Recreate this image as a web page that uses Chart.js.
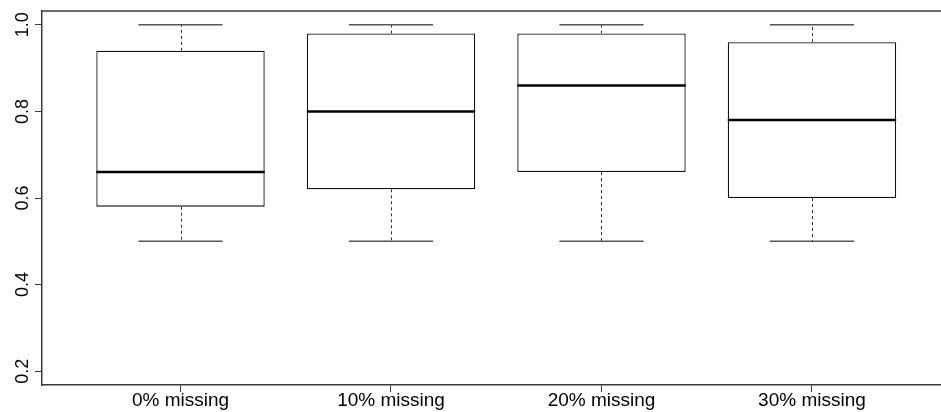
<!DOCTYPE html>
<html>
<head>
<meta charset="utf-8">
<script src="https://cdn.jsdelivr.net/npm/chart.js@4/dist/chart.umd.min.js"></script>
<style>
  html, body { margin: 0; padding: 0; background: #fff; }
  #wrap { width: 941px; height: 412px; }
</style>
</head>
<body>
<div id="wrap"><canvas id="c" width="941" height="412"></canvas></div>
<script>
// Box-plot summaries per missing-data level
const categories  = ['0% missing', '10% missing', '20% missing', '30% missing'];
const whiskerLow  = [0.50, 0.50, 0.50, 0.50];
const q1          = [0.58, 0.62, 0.66, 0.60];
const median      = [0.66, 0.80, 0.86, 0.78];
const q3          = [0.94, 0.98, 0.98, 0.96];
const whiskerHigh = [1.00, 1.00, 1.00, 1.00];
const yTicks      = [0.2, 0.4, 0.6, 0.8, 1.0];

const positions = categories.map((_, i) => i + 1);
const FONT = '"Liberation Sans", Arial, Helvetica, sans-serif';
const AXIS_COLOR = '#3a3a3a';

// Whiskers, caps and median lines drawn on top of the floating bars (the boxes)
const boxParts = {
  id: 'boxParts',
  afterDatasetsDraw(chart) {
    const { ctx, scales: { x, y } } = chart;
    const meta = chart.getDatasetMeta(0);
    ctx.save();
    positions.forEach((p, i) => {
      const bar = meta.data[i];
      const cx = Math.round(bar.x) + 0.5;
      const half = bar.width / 2;
      const capL = x.getPixelForValue(p - 0.2);
      const capR = x.getPixelForValue(p + 0.2);
      const yLo = y.getPixelForValue(whiskerLow[i]);
      const yQ1 = y.getPixelForValue(q1[i]);
      const yMed = y.getPixelForValue(median[i]);
      const yQ3 = y.getPixelForValue(q3[i]);
      const yHi = y.getPixelForValue(whiskerHigh[i]);

      // dashed whiskers
      ctx.setLineDash([3, 3]);
      ctx.strokeStyle = '#333';
      ctx.lineWidth = 1;
      ctx.beginPath();
      ctx.moveTo(cx, yQ3); ctx.lineTo(cx, yHi);
      ctx.moveTo(cx, yQ1); ctx.lineTo(cx, yLo);
      ctx.stroke();

      // whisker caps
      ctx.setLineDash([]);
      ctx.strokeStyle = '#555';
      ctx.lineWidth = 1.5;
      ctx.beginPath();
      ctx.moveTo(capL, yHi); ctx.lineTo(capR, yHi);
      ctx.moveTo(capL, yLo); ctx.lineTo(capR, yLo);
      ctx.stroke();

      // median
      ctx.strokeStyle = '#000';
      ctx.lineWidth = 2.5;
      ctx.beginPath();
      ctx.moveTo(bar.x - half, yMed); ctx.lineTo(bar.x + half, yMed);
      ctx.stroke();
    });
    ctx.restore();
  },
  afterDraw(chart) {
    const { ctx, chartArea, scales: { y } } = chart;
    ctx.save();
    // top edge of the plot frame
    ctx.strokeStyle = AXIS_COLOR;
    ctx.lineWidth = 1.5;
    ctx.beginPath();
    ctx.moveTo(chartArea.left, chartArea.top);
    ctx.lineTo(chartArea.right, chartArea.top);
    ctx.stroke();
    // vertical y tick labels, reading bottom to top
    ctx.fillStyle = '#000';
    ctx.font = '18px ' + FONT;
    ctx.textAlign = 'center';
    ctx.textBaseline = 'alphabetic';
    y.ticks.forEach(t => {
      const py = y.getPixelForValue(t.value);
      ctx.save();
      ctx.translate(28, py);
      ctx.rotate(-Math.PI / 2);
      ctx.fillText(t.value.toFixed(1), 0, 0);
      ctx.restore();
    });
    ctx.restore();
  }
};

new Chart(document.getElementById('c'), {
  type: 'bar',
  data: {
    datasets: [{
      data: positions.map((p, i) => ({ x: p, y: [q1[i], q3[i]] })),
      backgroundColor: '#fff',
      borderColor: '#111',
      borderWidth: 1.3,
      borderSkipped: false,
      barPercentage: 1.0,
      categoryPercentage: 0.8
    }]
  },
  options: {
    responsive: false,
    animation: false,
    devicePixelRatio: 1,
    layout: { padding: { top: 11, right: 0, left: 0, bottom: 0 } },
    plugins: { legend: { display: false }, tooltip: { enabled: false } },
    scales: {
      x: {
        type: 'linear',
        offset: false,
        min: 0.342,
        max: 4.613,
        afterBuildTicks: s => { s.ticks = positions.map(v => ({ value: v })); },
        afterFit: s => { s.height = 27; },
        grid: { offset: false, drawOnChartArea: false, drawTicks: true, tickLength: 7, color: AXIS_COLOR, lineWidth: 1 },
        border: { display: true, color: AXIS_COLOR, width: 1.5 },
        ticks: {
          autoSkip: false,
          maxRotation: 0,
          minRotation: 0,
          padding: -3,
          color: '#000',
          font: { family: FONT, size: 19 },
          callback: v => categories[v - 1]
        }
      },
      y: {
        type: 'linear',
        min: 0.168,
        max: 1.032,
        afterBuildTicks: s => { s.ticks = yTicks.map(v => ({ value: v })); },
        afterFit: s => { s.width = 42; },
        grid: { drawOnChartArea: false, drawTicks: true, tickLength: 7, color: AXIS_COLOR, lineWidth: 1 },
        border: { display: true, color: AXIS_COLOR, width: 1.5 },
        ticks: { display: false }
      }
    }
  },
  plugins: [boxParts]
});
</script>
</body>
</html>
